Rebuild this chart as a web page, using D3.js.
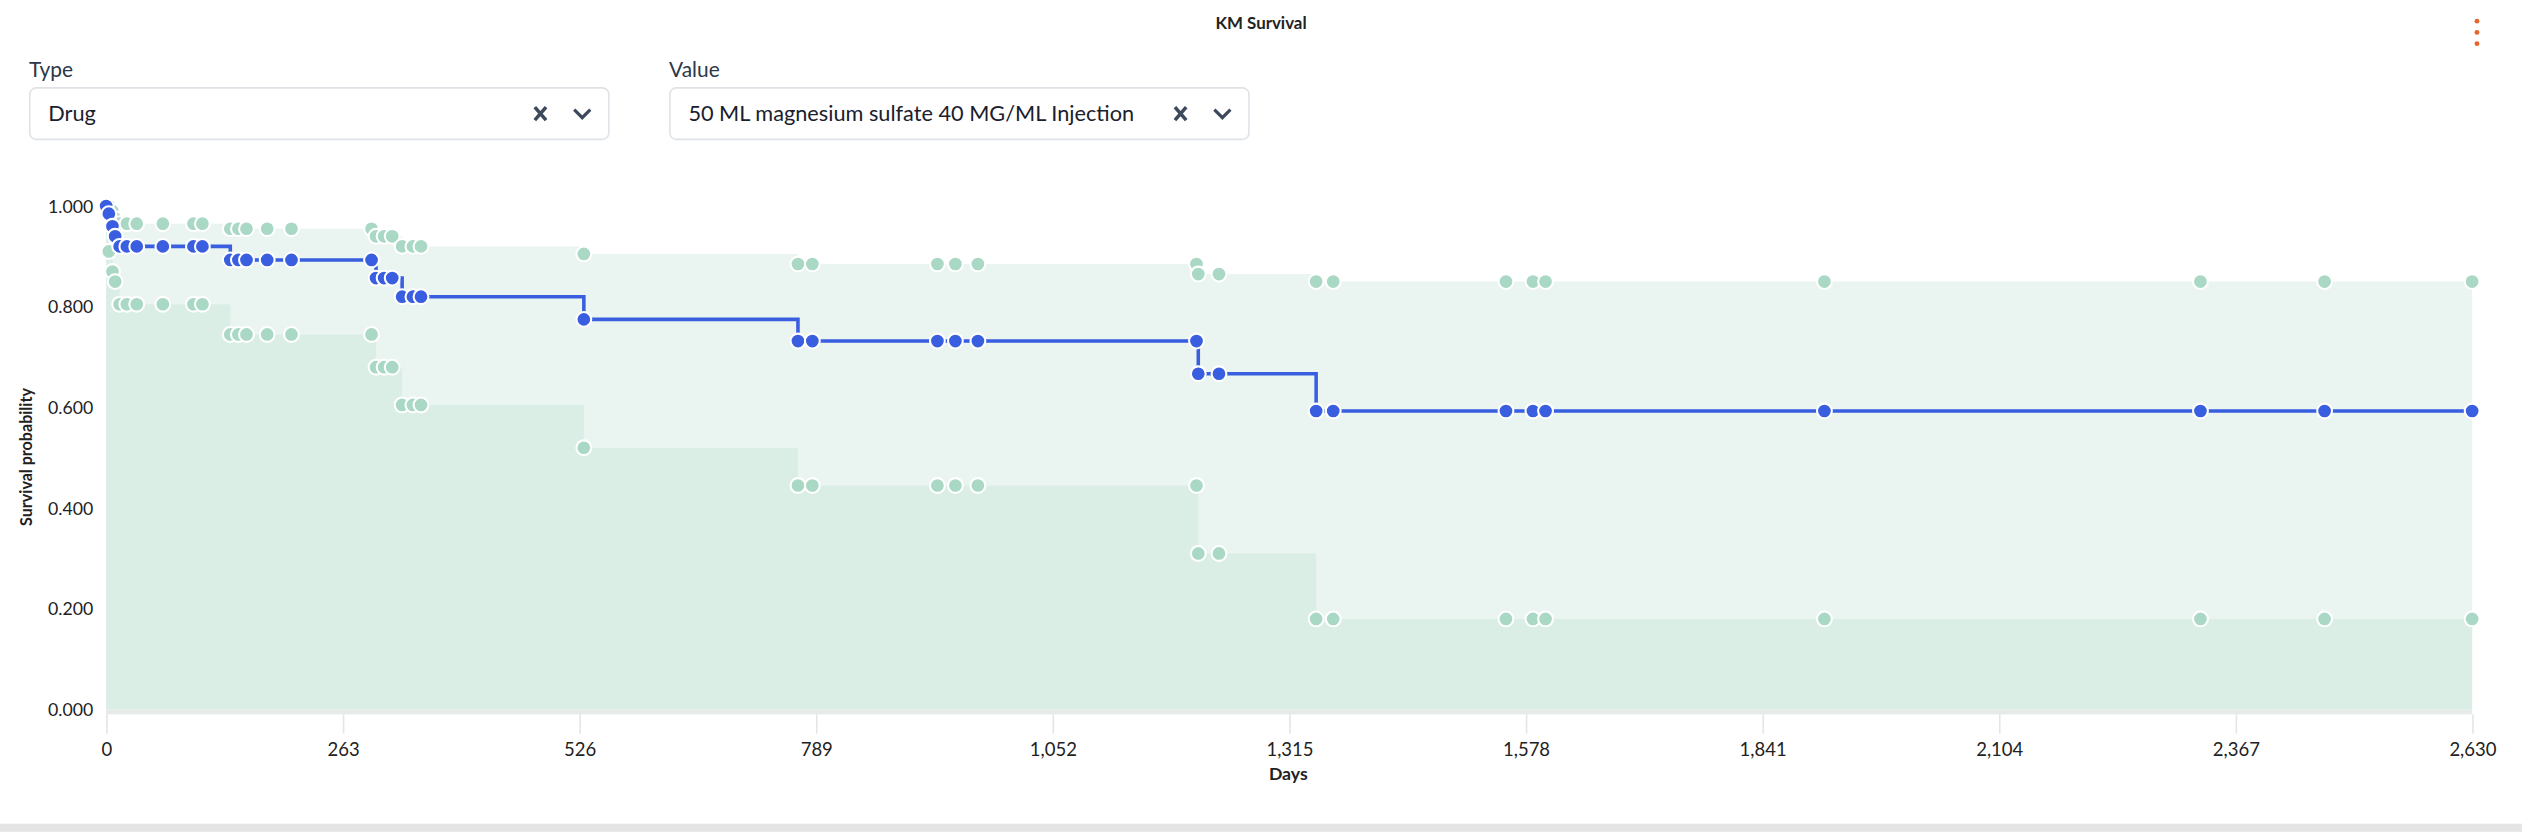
<!DOCTYPE html>
<html>
<head>
<meta charset="utf-8">
<script src="https://cdn.jsdelivr.net/npm/d3@7"></script>
<style>
  body { margin: 0; background: #fff; }
  svg { display: block; font-family: Lato, "Open Sans", sans-serif; }
</style>
</head>
<body>
<svg id="chart" width="2522" height="832" viewBox="0 0 1568 517"></svg>
<script>
/* KM estimate: day, survival, upper CI, lower CI (one entry per marker) */
var days  = [0, 3, 7, 10, 15, 23, 34, 63, 97, 107, 138, 147, 156, 179, 206, 295, 300, 309, 318, 329, 341, 350, 531,
             769, 785, 924, 944, 969, 1212, 1214, 1237, 1345, 1364, 1556, 1586, 1600, 1910, 2328, 2466, 2630];
var surv  = [1.000, 0.985, 0.960, 0.940, 0.920, 0.920, 0.920, 0.920, 0.920, 0.920, 0.893, 0.893, 0.893, 0.893, 0.893, 0.893,
             0.857, 0.857, 0.857, 0.820, 0.820, 0.820, 0.775, 0.732, 0.732, 0.732, 0.732, 0.732, 0.732, 0.667, 0.667,
             0.593, 0.593, 0.593, 0.593, 0.593, 0.593, 0.593, 0.593, 0.593];
var upper = [1.000, 1.000, 0.990, 0.975, 0.965, 0.965, 0.965, 0.965, 0.965, 0.965, 0.955, 0.955, 0.955, 0.955, 0.955, 0.955,
             0.940, 0.940, 0.940, 0.920, 0.920, 0.920, 0.905, 0.885, 0.885, 0.885, 0.885, 0.885, 0.885, 0.865, 0.865,
             0.850, 0.850, 0.850, 0.850, 0.850, 0.850, 0.850, 0.850, 0.850];
var lower = [1.000, 0.910, 0.870, 0.850, 0.805, 0.805, 0.805, 0.805, 0.805, 0.805, 0.745, 0.745, 0.745, 0.745, 0.745, 0.745,
             0.680, 0.680, 0.680, 0.605, 0.605, 0.605, 0.520, 0.445, 0.445, 0.445, 0.445, 0.445, 0.445, 0.310, 0.310,
             0.180, 0.180, 0.180, 0.180, 0.180, 0.180, 0.180, 0.180, 0.180];
var xTicks = [0, 263, 526, 789, 1052, 1315, 1578, 1841, 2104, 2367, 2630];
var yTicks = [0, 0.2, 0.4, 0.6, 0.8, 1.0];

var data = days.map(function(d, i) { return {t: d, s: surv[i], up: upper[i], lo: lower[i]}; });

var svg = d3.select("#chart");
var textCol = "#2d3748";

/* header */
svg.append("text").attr("x", 784).attr("y", 18).attr("text-anchor", "middle")
  .attr("font-size", 10.5).attr("font-weight", "bold").attr("fill", "#222").text("KM Survival");
[13, 20, 27].forEach(function(y) {
  svg.append("circle").attr("cx", 1540).attr("cy", y).attr("r", 1.5).attr("fill", "#e8622c");
});

/* dropdowns */
function dropdown(x, w, label, value) {
  svg.append("text").attr("x", x).attr("y", 48).attr("font-size", 13).attr("fill", textCol).text(label);
  svg.append("rect").attr("x", x + 0.5).attr("y", 54.5).attr("width", w).attr("height", 32).attr("rx", 4)
    .attr("fill", "#fff").attr("stroke", "#dfe3e8");
  svg.append("text").attr("x", x + 12).attr("y", 75).attr("font-size", 13.5).attr("fill", "#1a202c").text(value);
  var cx = x + w - 42;
  svg.append("path").attr("d", "M" + (cx - 3.5) + ",66.5L" + (cx + 3.5) + ",74.5M" + (cx + 3.5) + ",66.5L" + (cx - 3.5) + ",74.5")
    .attr("stroke", "#3d4a5c").attr("stroke-width", 2.2).attr("fill", "none");
  var vx = x + w - 16;
  svg.append("path").attr("d", "M" + (vx - 5) + ",68L" + vx + ",73L" + (vx + 5) + ",68")
    .attr("stroke", "#3d4a5c").attr("stroke-width", 2).attr("fill", "none");
}
dropdown(18, 360, "Type", "Drug");
dropdown(416, 360, "Value", "50 ML magnesium sulfate 40 MG/ML Injection");

/* plot */
var x = d3.scaleLinear().domain([0, 2630]).range([66, 1537]);
var y = d3.scaleLinear().domain([0, 1]).range([441, 128]);
var g = svg.append("g");

g.append("path").datum(data)
  .attr("fill", "#eaf4f0")
  .attr("d", d3.area().curve(d3.curveStepAfter).x(function(d) { return x(d.t); })
    .y0(y(0)).y1(function(d) { return y(d.up); }));
g.append("path").datum(data)
  .attr("fill", "#daeee5")
  .attr("d", d3.area().curve(d3.curveStepAfter).x(function(d) { return x(d.t); })
    .y0(y(0)).y1(function(d) { return y(d.lo); }));
g.append("rect").attr("x", 66).attr("y", 441).attr("width", 1471).attr("height", 3).attr("fill", "#e6ebe9");

/* axes */
var xAxis = g.append("g").attr("transform", "translate(0,444)")
  .call(d3.axisBottom(x).tickValues(xTicks).tickSize(12).tickPadding(6));
xAxis.select(".domain").remove();
xAxis.selectAll("line").attr("stroke", "#e2e6e8");
xAxis.selectAll("text").attr("font-size", 11.5).attr("fill", "#222").attr("font-family", "Lato, sans-serif");

var yAxis = g.append("g").attr("transform", "translate(62,0)")
  .call(d3.axisLeft(y).tickValues(yTicks).tickSize(0).tickPadding(4).tickFormat(d3.format(".3f")));
yAxis.select(".domain").remove();
yAxis.selectAll("text").attr("font-size", 11).attr("fill", "#222").attr("font-family", "Lato, sans-serif");

svg.append("text").attr("x", 801).attr("y", 485).attr("text-anchor", "middle")
  .attr("font-size", 11).attr("font-weight", "bold").attr("fill", "#222").text("Days");
svg.append("text").attr("transform", "translate(20,284) rotate(-90)").attr("text-anchor", "middle")
  .attr("font-size", 10).attr("font-weight", "bold").attr("fill", "#222").text("Survival probability");

/* CI markers */
["up", "lo"].forEach(function(k) {
  g.selectAll(".m" + k).data(data.slice(1)).enter().append("circle")
    .attr("cx", function(d) { return x(d.t); })
    .attr("cy", function(d) { return y(d[k]); })
    .attr("r", 4.6).attr("fill", "#a9d8c5").attr("stroke", "#fff").attr("stroke-width", 1.3);
});

/* KM line */
g.append("path").datum(data)
  .attr("fill", "none").attr("stroke", "#3a5ee0").attr("stroke-width", 2.2)
  .attr("d", d3.line().curve(d3.curveStepAfter).x(function(d) { return x(d.t); }).y(function(d) { return y(d.s); }));
g.selectAll(".ms").data(data).enter().append("circle")
  .attr("cx", function(d) { return x(d.t); })
  .attr("cy", function(d) { return y(d.s); })
  .attr("r", 4.6).attr("fill", "#3a5ee0").attr("stroke", "#fff").attr("stroke-width", 1.3);

/* bottom strip */
svg.append("rect").attr("x", 0).attr("y", 512).attr("width", 1568).attr("height", 5).attr("fill", "#e4e4e4");
</script>
</body>
</html>
